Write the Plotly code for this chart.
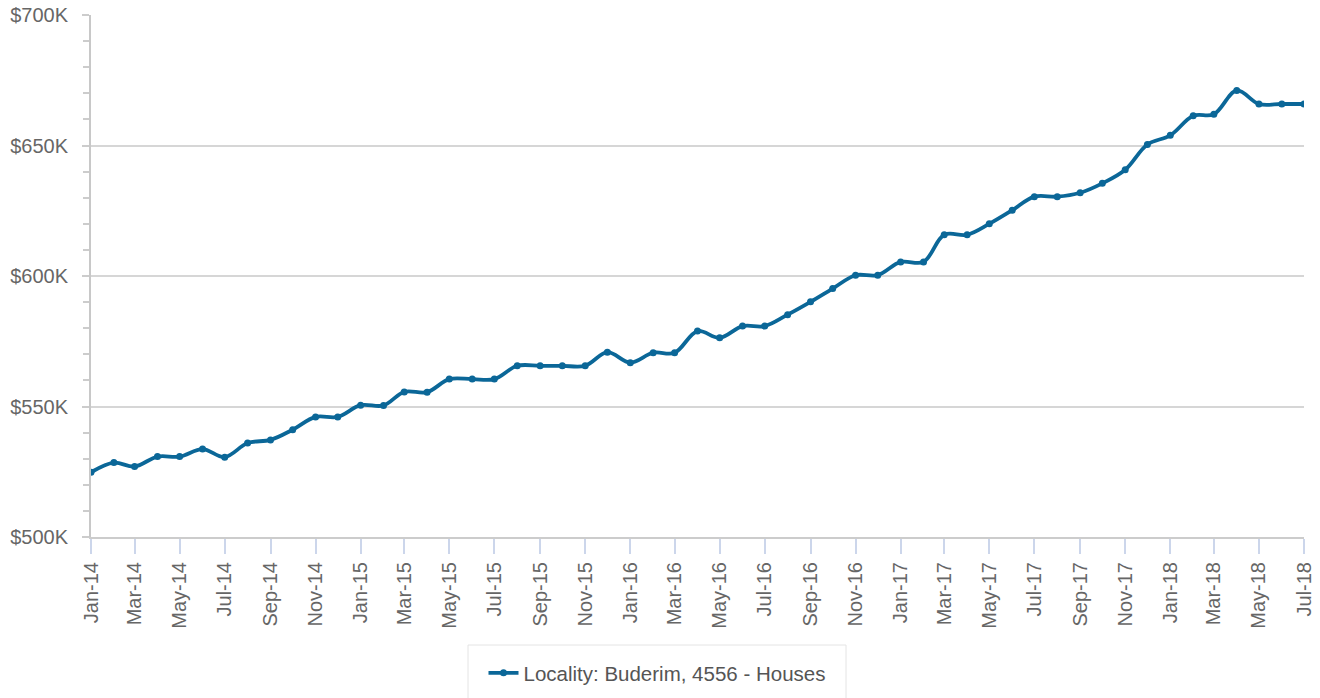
import plotly.graph_objects as go

months = ["2014-01-01","2014-02-01","2014-03-01","2014-04-01","2014-05-01","2014-06-01",
          "2014-07-01","2014-08-01","2014-09-01","2014-10-01","2014-11-01","2014-12-01",
          "2015-01-01","2015-02-01","2015-03-01","2015-04-01","2015-05-01","2015-06-01",
          "2015-07-01","2015-08-01","2015-09-01","2015-10-01","2015-11-01","2015-12-01",
          "2016-01-01","2016-02-01","2016-03-01","2016-04-01","2016-05-01","2016-06-01",
          "2016-07-01","2016-08-01","2016-09-01","2016-10-01","2016-11-01","2016-12-01",
          "2017-01-01","2017-02-01","2017-03-01","2017-04-01","2017-05-01","2017-06-01",
          "2017-07-01","2017-08-01","2017-09-01","2017-10-01","2017-11-01","2017-12-01",
          "2018-01-01","2018-02-01","2018-03-01","2018-04-01","2018-05-01","2018-06-01",
          "2018-07-01"]

# median value in $K
values_k = [524.8, 528.5, 527.0, 530.8, 530.8, 533.7,
            530.6, 536.0, 537.2, 541.1, 546.0, 546.0,
            550.5, 550.4, 555.6, 555.5, 560.5, 560.5,
            560.5, 565.6, 565.6, 565.6, 565.6, 570.8,
            566.8, 570.6, 570.6, 578.9, 576.3, 580.8,
            580.8, 585.2, 590.1, 595.2, 600.3, 600.3,
            605.4, 605.4, 615.8, 615.8, 620.0, 625.2,
            630.4, 630.4, 631.9, 635.5, 640.7, 650.4,
            653.9, 661.4, 662.0, 671.1, 665.9, 665.9,
            665.9]

y_ticks = [500, 550, 600, 650, 700]
y_labels = ["$500K", "$550K", "$600K", "$650K", "$700K"]

series_name = "Locality: Buderim, 4556 - Houses"
line_color = "#0b6798"
font_family = "Liberation Sans, Arial, sans-serif"

W, H = 1320, 698
ML, MR, MT, MB = 91, 16, 15, 161
PW, PH = W - ML - MR, H - MT - MB

fig = go.Figure()
fig.add_trace(go.Scatter(
    x=months, y=values_k, name=series_name,
    mode="lines+markers",
    line=dict(color=line_color, width=3.8, shape="spline", smoothing=1.0),
    marker=dict(color=line_color, size=7),
    showlegend=True,
))

fig.update_layout(
    width=W, height=H,
    margin=dict(l=ML, r=MR, t=MT, b=MB, autoexpand=False),
    paper_bgcolor="white", plot_bgcolor="white",
    font=dict(family=font_family, color="#666666", size=20),
    showlegend=True,
    legend=dict(orientation="h", x=(657 - 91) / PW, xanchor="center", y=(537 - 673) / PH, yanchor="middle",
                font=dict(size=20.5, color="#555555"), bgcolor="rgba(0,0,0,0)",
                borderwidth=0),
    xaxis=dict(
        type="date", automargin=False,
        range=["2014-01-01", "2018-07-01"],
        tick0="2014-01-01", dtick="M2", tickformat="%b-%y",
        tickangle=-90, ticklabeloverflow="allow",
        ticks="outside", ticklen=15, tickcolor="#ccd6eb", tickwidth=1.5,
        showline=True, linecolor="#cccccc", linewidth=2,
        showgrid=False, zeroline=False,
        tickfont=dict(size=20, color="#666666"),
    ),
    yaxis=dict(
        automargin=False,
        range=[500, 700], tickmode="array", tickvals=y_ticks, ticktext=y_labels,
        ticklabeloverflow="allow", ticklabelstandoff=10,
        ticks="outside", ticklen=7, tickcolor="#cccccc", tickwidth=2,
        showline=True, linecolor="#c8c8c8", linewidth=2,
        showgrid=True, gridcolor="#d6d6d6", gridwidth=1.5,
        zeroline=False,
        minor=dict(tickmode="linear", tick0=500, dtick=10, ticks="outside", ticklen=6,
                   tickcolor="#cccccc", tickwidth=1.5, showgrid=False),
        tickfont=dict(size=20, color="#666666"),
    ),
)

# legend frame
fig.add_shape(type="rect", xref="paper", yref="paper",
              x0=(468 - 91) / PW, x1=(846 - 91) / PW,
              y0=(537 - 705) / PH, y1=(537 - 645) / PH,
              line=dict(color="#e4e4e4", width=1), fillcolor="rgba(0,0,0,0)", layer="below")

fig.write_html("out.html",
               config={"displayModeBar": False},
               post_script="document.body.style.margin='0';document.body.style.overflow='hidden';")
